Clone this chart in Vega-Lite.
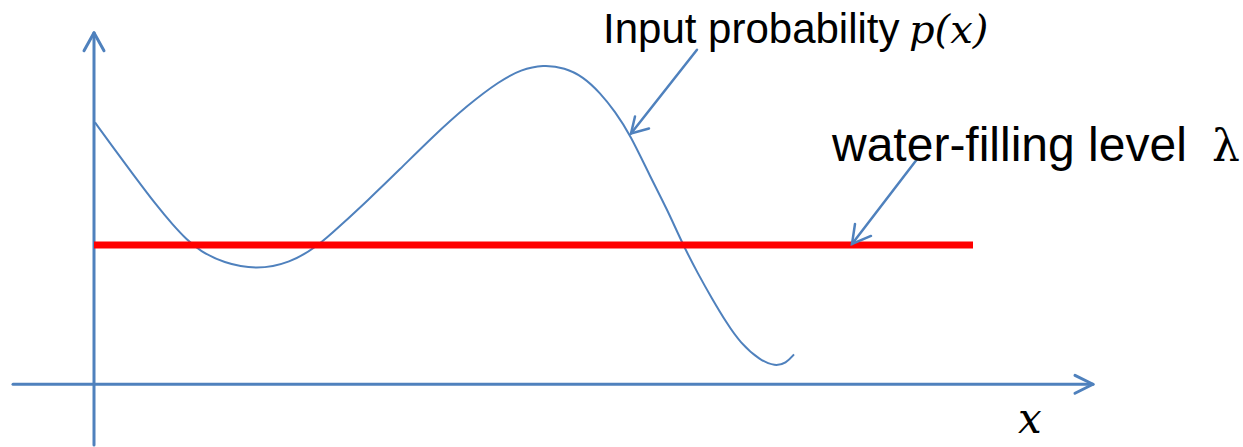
{
  "$schema": "https://vega.github.io/schema/vega-lite/v6.json",
  "width": 1243,
  "height": 447,
  "autosize": {"type": "fit", "contains": "padding"},
  "padding": 0,
  "background": "white",
  "config": {"view": {"stroke": null}},
  "datasets": {
    "curve": [
      {"x": 0.01, "y": 2.63}, {"x": 0.19, "y": 2.38}, {"x": 0.39, "y": 2.11}, {"x": 0.63, "y": 1.79},
      {"x": 0.79, "y": 1.60}, {"x": 0.93, "y": 1.45}, {"x": 1.06, "y": 1.34}, {"x": 1.29, "y": 1.22},
      {"x": 1.63, "y": 1.15}, {"x": 1.96, "y": 1.22}, {"x": 2.23, "y": 1.38}, {"x": 2.46, "y": 1.59},
      {"x": 2.73, "y": 1.84}, {"x": 3.06, "y": 2.16}, {"x": 3.39, "y": 2.49}, {"x": 3.73, "y": 2.80},
      {"x": 4.06, "y": 3.05}, {"x": 4.27, "y": 3.16}, {"x": 4.49, "y": 3.21}, {"x": 4.71, "y": 3.18},
      {"x": 4.89, "y": 3.09}, {"x": 5.06, "y": 2.93}, {"x": 5.21, "y": 2.74}, {"x": 5.36, "y": 2.51},
      {"x": 5.56, "y": 2.09}, {"x": 5.73, "y": 1.76}, {"x": 5.89, "y": 1.40}, {"x": 6.04, "y": 1.11},
      {"x": 6.18, "y": 0.86}, {"x": 6.33, "y": 0.61}, {"x": 6.46, "y": 0.42}, {"x": 6.66, "y": 0.24},
      {"x": 6.81, "y": 0.18}, {"x": 6.92, "y": 0.21}, {"x": 7.00, "y": 0.30}
    ],
    "axes": [
      {"seg": "yaxis", "o": 1, "x": 0, "y": -0.61}, {"seg": "yaxis", "o": 2, "x": 0, "y": 3.53},
      {"seg": "yhead", "o": 1, "x": -0.10, "y": 3.35}, {"seg": "yhead", "o": 2, "x": 0, "y": 3.53}, {"seg": "yhead", "o": 3, "x": 0.10, "y": 3.35},
      {"seg": "xaxis", "o": 1, "x": -0.81, "y": 0}, {"seg": "xaxis", "o": 2, "x": 9.99, "y": 0},
      {"seg": "xhead", "o": 1, "x": 9.81, "y": 0.09}, {"seg": "xhead", "o": 2, "x": 9.99, "y": 0}, {"seg": "xhead", "o": 3, "x": 9.81, "y": -0.09}
    ],
    "level": [
      {"x": 0, "y": 1.40}, {"x": 8.79, "y": 1.40}
    ],
    "pointers": [
      {"seg": "a1", "o": 1, "x": 6.03, "y": 3.36}, {"seg": "a1", "o": 2, "x": 5.37, "y": 2.52},
      {"seg": "a1h", "o": 1, "x": 5.41, "y": 2.69}, {"seg": "a1h", "o": 2, "x": 5.37, "y": 2.52}, {"seg": "a1h", "o": 3, "x": 5.55, "y": 2.57},
      {"seg": "a2", "o": 1, "x": 8.23, "y": 2.26}, {"seg": "a2", "o": 2, "x": 7.58, "y": 1.41},
      {"seg": "a2h", "o": 1, "x": 7.61, "y": 1.61}, {"seg": "a2h", "o": 2, "x": 7.58, "y": 1.41}, {"seg": "a2h", "o": 3, "x": 7.77, "y": 1.49}
    ],
    "sans": [
      {"x": 5.09, "y": 3.43, "t": "Input probability", "s": 42},
      {"x": 7.38, "y": 2.24, "t": "water-filling level", "s": 48}
    ],
    "italic": [
      {"x": 8.15, "y": 3.43, "t": "p(x)", "s": 40},
      {"x": 9.24, "y": -0.49, "t": "x", "s": 42}
    ],
    "upright": [
      {"x": 11.18, "y": 2.24, "t": "λ", "s": 44}
    ]
  },
  "encoding": {
    "x": {"field": "x", "type": "quantitative", "scale": {"domain": [-0.94, 11.49], "nice": false, "zero": false}, "axis": null},
    "y": {"field": "y", "type": "quantitative", "scale": {"domain": [-0.61, 3.86], "nice": false, "zero": false}, "axis": null}
  },
  "layer": [
    {
      "data": {"name": "axes"},
      "mark": {"type": "line", "color": "#4F81BD", "strokeWidth": 3, "strokeCap": "round", "strokeJoin": "round"},
      "encoding": {"detail": {"field": "seg"}, "order": {"field": "o", "type": "quantitative"}}
    },
    {
      "data": {"name": "curve"},
      "mark": {"type": "line", "color": "#4F81BD", "strokeWidth": 2, "interpolate": "basis"},
      "encoding": {}
    },
    {
      "data": {"name": "level"},
      "mark": {"type": "line", "color": "#FF0000", "strokeWidth": 7},
      "encoding": {}
    },
    {
      "data": {"name": "pointers"},
      "mark": {"type": "line", "color": "#4F81BD", "strokeWidth": 2.5, "strokeCap": "round", "strokeJoin": "miter"},
      "encoding": {"detail": {"field": "seg"}, "order": {"field": "o", "type": "quantitative"}}
    },
    {
      "data": {"name": "sans"},
      "mark": {"type": "text", "font": "Liberation Sans", "align": "left", "baseline": "alphabetic", "color": "black"},
      "encoding": {"text": {"field": "t"}, "size": {"field": "s", "type": "quantitative", "scale": null}}
    },
    {
      "data": {"name": "italic"},
      "mark": {"type": "text", "font": "DejaVu Serif", "fontStyle": "italic", "align": "left", "baseline": "alphabetic", "color": "black"},
      "encoding": {"text": {"field": "t"}, "size": {"field": "s", "type": "quantitative", "scale": null}}
    },
    {
      "data": {"name": "upright"},
      "mark": {"type": "text", "font": "DejaVu Serif", "align": "left", "baseline": "alphabetic", "color": "black"},
      "encoding": {"text": {"field": "t"}, "size": {"field": "s", "type": "quantitative", "scale": null}}
    }
  ]
}
